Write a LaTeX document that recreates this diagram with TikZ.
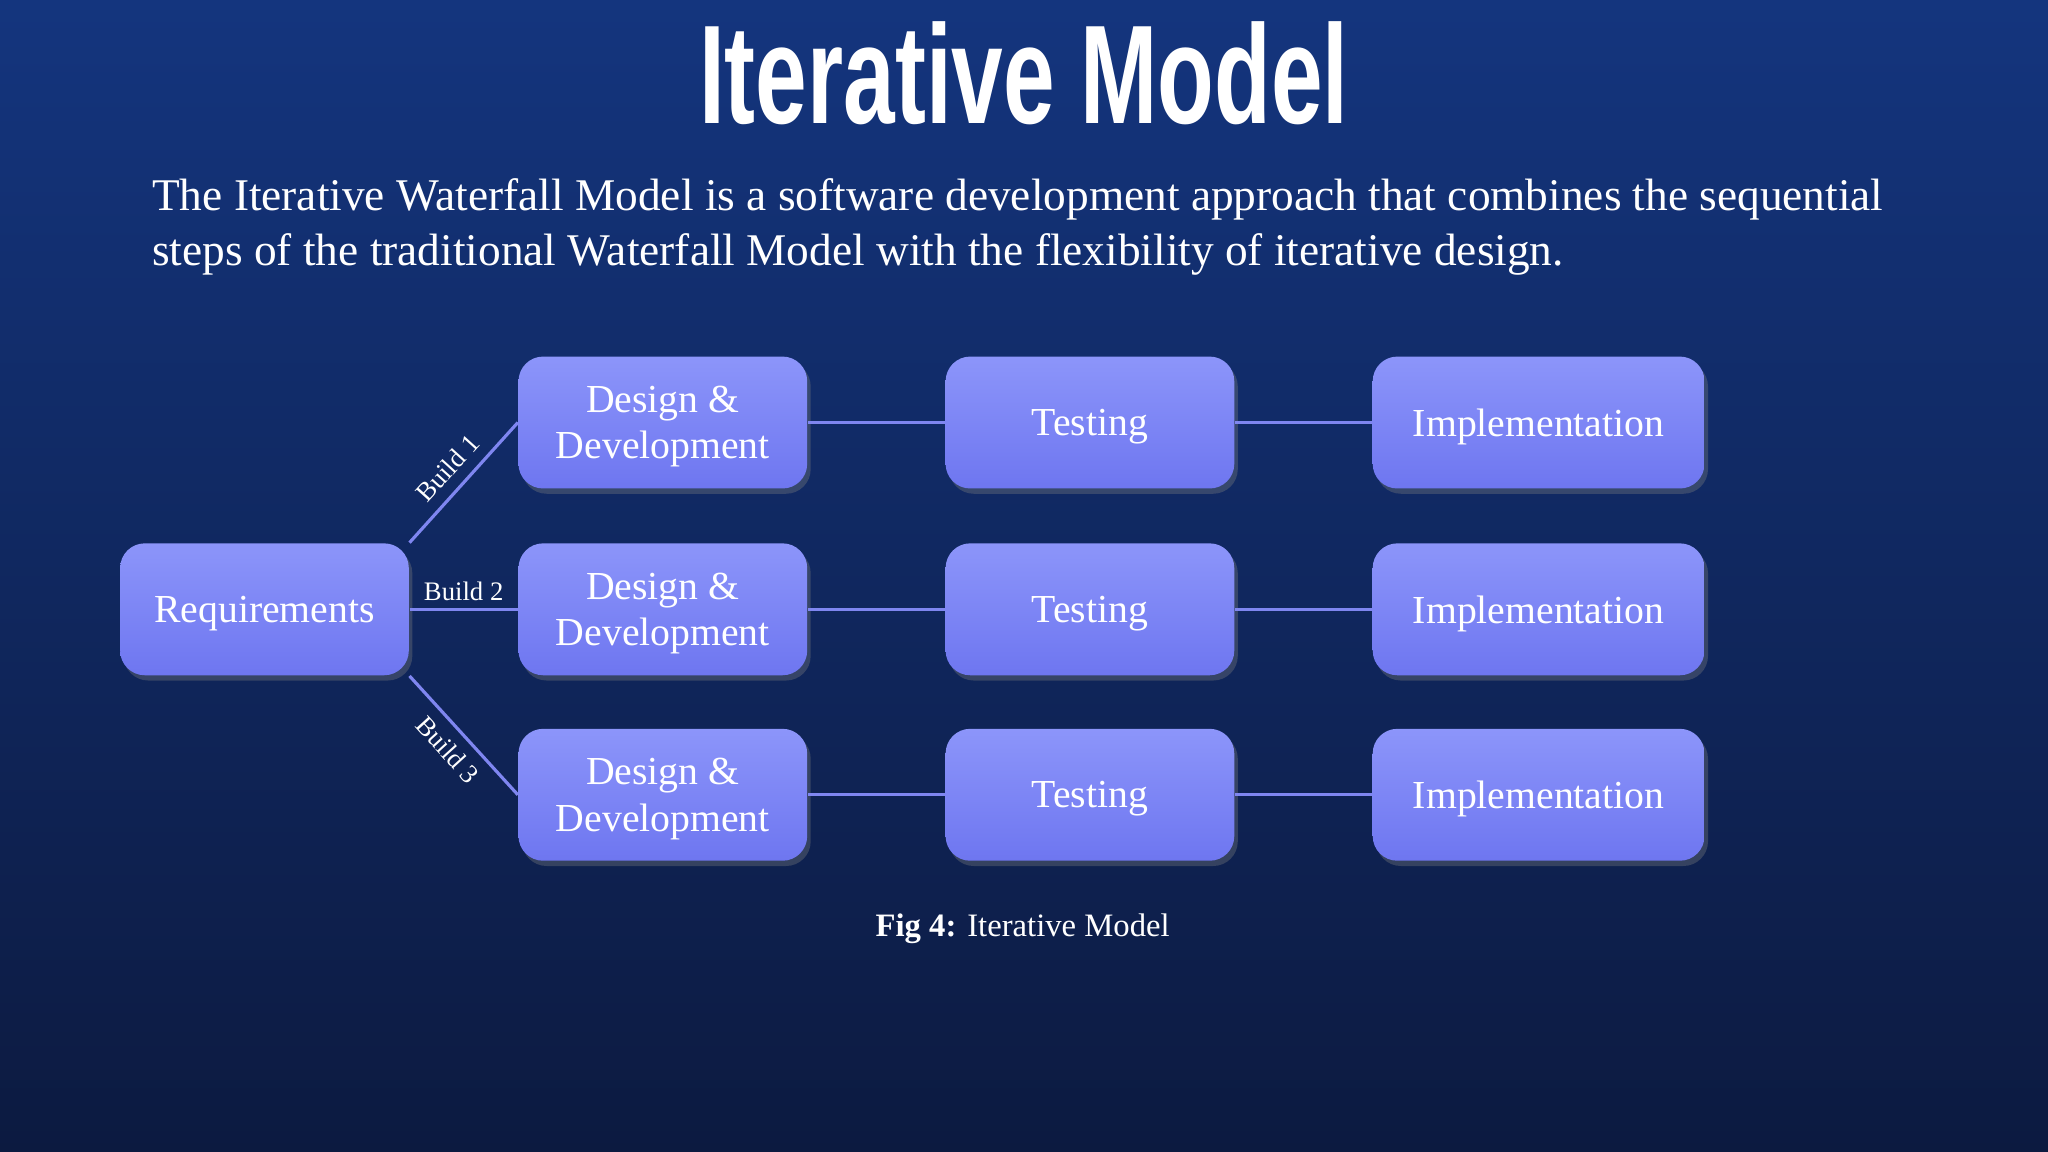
\documentclass[tikz,border=0pt]{standalone}
\usepackage{fontspec}
\setmainfont{Liberation Serif}
\newfontfamily\titlefont{Liberation Sans}
\usetikzlibrary{shadows}
\definecolor{bgtop}{HTML}{14357E}
\definecolor{bgbot}{HTML}{0C1A40}
\definecolor{boxtop}{HTML}{8C95FA}
\definecolor{boxbot}{HTML}{6E76F0}
\definecolor{linec}{HTML}{7F86F0}
\newlength{\pxu}
\setlength{\pxu}{0.013061cm}
\tikzset{
  stepbox/.style={draw=none,rounded corners=7pt,top color=boxtop,bottom color=boxbot,
    minimum height=101*\pxu,text=white,font=\fontsize{11.3}{13.2}\selectfont,align=center,
    text depth=0pt,
    drop shadow={shadow xshift=1pt,shadow yshift=-1.5pt,opacity=0.35}},
  conn/.style={draw=linec,line width=0.9pt},
  blabel/.style={text=white,font=\fontsize{7.6}{9}\selectfont,inner sep=1pt}
}
\begin{document}
\begin{tikzpicture}[x=\pxu,y=-\pxu]
\shade[top color=bgtop,bottom color=bgbot] (0,0) rectangle (1568,882);
\useasboundingbox (0,0) rectangle (1568,882);
\node[text=white,font=\titlefont\bfseries\fontsize{40}{44}\selectfont] (title) at (784,56) {\scalebox{0.66}[1.0]{Iterative Model}};
\node[text=white,anchor=north west,align=left,font=\fontsize{12.9}{15.6}\selectfont,inner sep=0] (intro) at (116,136)
 {The Iterative Waterfall Model is a software development approach that combines the sequential\\steps of the traditional Waterfall Model with the flexibility of iterative design.};
\node[stepbox,minimum width=221*\pxu] (req) at (202.5,466.5) {Requirements};
\foreach \r/\y in {1/323.5,2/466.5,3/608.5}{
  \node[stepbox,minimum width=221*\pxu] (d\r) at (507.5,\y) {Design \&\\Development};
  \node[stepbox,minimum width=221*\pxu] (t\r) at (834.5,\y) {Testing};
  \node[stepbox,minimum width=254*\pxu] (i\r) at (1178,\y) {Implementation};
  \draw[conn] (d\r) -- (t\r);
  \draw[conn] (t\r) -- (i\r);
}
\draw[conn] (req.north east) -- node[blabel,sloped,above=2pt] {Build 1} (d1.west);
\draw[conn] (req.east) -- node[blabel,above=1pt] {Build 2} (d2.west);
\draw[conn] (req.south east) -- node[blabel,sloped,below=2pt] {Build 3} (d3.west);
\node[text=white,font=\fontsize{9.3}{11}\selectfont] (cap) at (783,711) {\textbf{Fig 4:} Iterative Model};
\end{tikzpicture}
\end{document}
